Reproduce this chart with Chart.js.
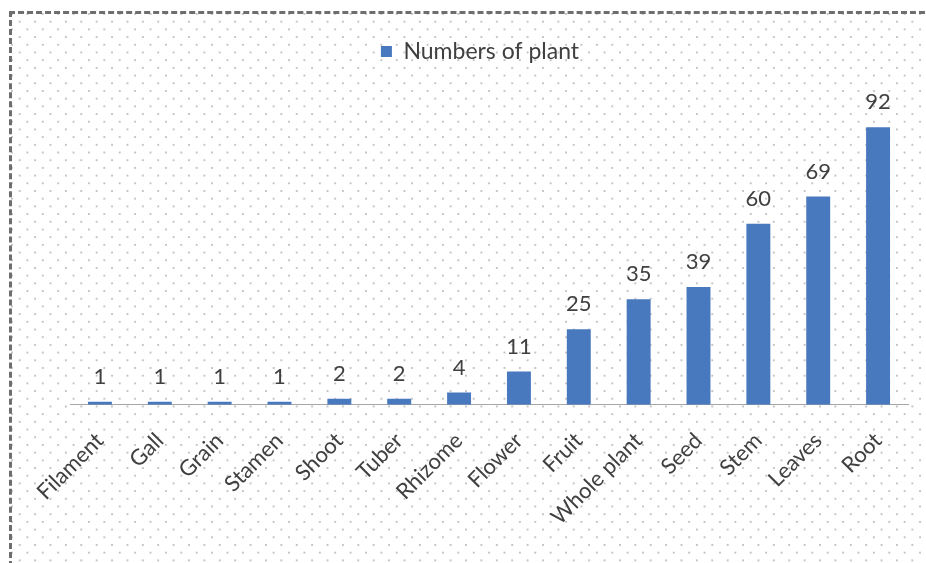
<!DOCTYPE html>
<html>
<head>
<meta charset="utf-8">
<script src="https://cdn.jsdelivr.net/npm/chart.js@4"></script>
<style>
  html, body { margin: 0; padding: 0; background: #fff; overflow: hidden; width: 926px; height: 563px; }
  #frame {
    position: absolute; left: 9px; top: 11px; width: 940px; height: 580px;
    border-left: 3px dashed #6e6e6e; border-top: 3px dashed #6e6e6e;
    background-color: #fff;
    background-image:
      radial-gradient(circle, #c4c4c4 0.8px, transparent 1.2px),
      radial-gradient(circle, #c4c4c4 0.8px, transparent 1.2px);
    background-size: 15.4px 15.4px, 15.4px 15.4px;
    background-position: 0 0, 7.7px 7.7px;
  }
  #wrap { position: absolute; left: 12px; top: 14px; width: 936px; height: 549px; }
</style>
</head>
<body>
<div id="frame"></div>
<div id="wrap"><canvas id="c"></canvas></div>
<script>
const categories = ["Filament", "Gall", "Grain", "Stamen", "Shoot", "Tuber", "Rhizome", "Flower", "Fruit", "Whole plant", "Seed", "Stem", "Leaves", "Root"];
const plantCounts = [1, 1, 1, 1, 2, 2, 4, 11, 25, 35, 39, 60, 69, 92];
const seriesName = "Numbers of plant";

const FONT = "Lato, 'Open Sans', sans-serif";

const valueLabels = {
  id: 'valueLabels',
  afterDatasetsDraw(chart) {
    const ctx = chart.ctx;
    const meta = chart.getDatasetMeta(0);
    ctx.save();
    ctx.font = "22px " + FONT;
    ctx.fillStyle = "#404040";
    ctx.textAlign = "center";
    ctx.textBaseline = "middle";
    meta.data.forEach((bar, i) => {
      ctx.fillText(String(chart.data.datasets[0].data[i]), bar.x, bar.y - 25);
    });
    ctx.restore();
  }
};

// nudge the legend slightly left, as in the original layout
const legendShift = {
  id: 'legendShift',
  afterLayout(chart) {
    if (chart.legend) { chart.legend.left -= 9; chart.legend.right -= 9; }
  }
};

new Chart(document.getElementById('c'), {
  type: 'bar',
  data: {
    labels: categories,
    datasets: [{
      label: seriesName,
      data: plantCounts,
      backgroundColor: '#4878bd',
      borderWidth: 0,
      barPercentage: 0.8,
      categoryPercentage: 0.5
    }]
  },
  options: {
    responsive: true,
    maintainAspectRatio: false,
    animation: false,
    layout: { padding: { left: 58, right: 40, top: 6, bottom: 10 } },
    plugins: {
      legend: {
        position: 'top',
        labels: {
          font: { family: FONT, size: 23 },
          color: '#404040',
          boxWidth: 11, boxHeight: 11,
          padding: 20
        }
      },
      tooltip: { enabled: false }
    },
    scales: {
      x: {
        grid: { display: false, drawTicks: false },
        border: { display: true, color: '#a6a6a6', width: 1 },
        ticks: {
          font: { family: FONT, size: 22 },
          color: '#404040',
          minRotation: 45, maxRotation: 45,
          padding: 23,
          autoSkip: false
        }
      },
      y: {
        display: false,
        min: 0, max: 110
      }
    }
  },
  plugins: [valueLabels, legendShift]
});
</script>
</body>
</html>
